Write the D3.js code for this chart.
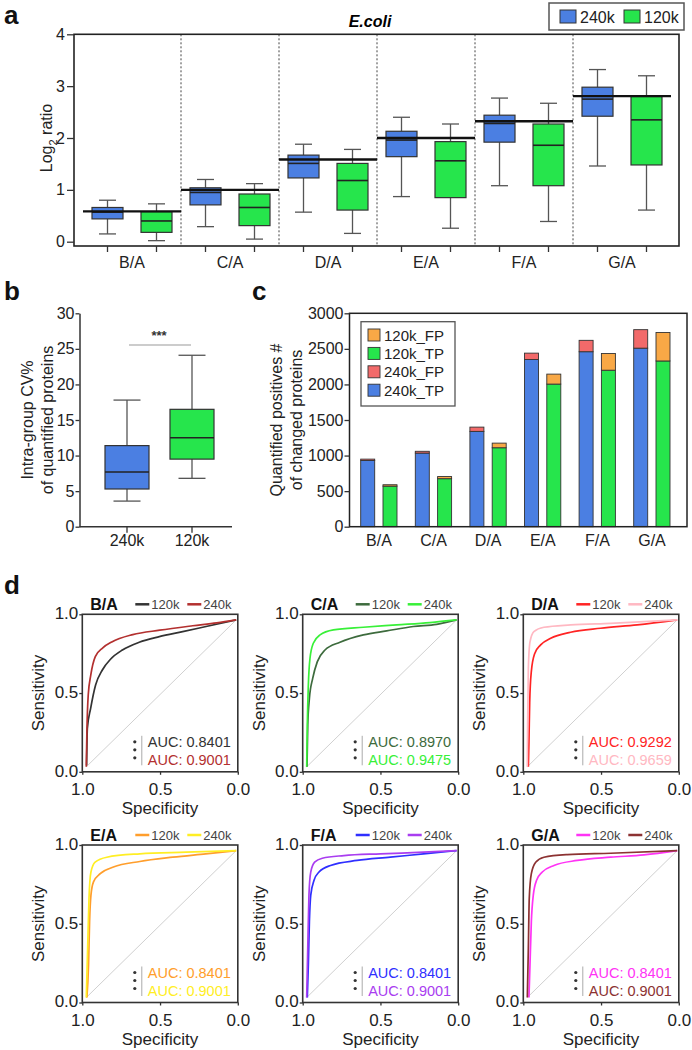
<!DOCTYPE html>
<html>
<head>
<meta charset="utf-8">
<script src="https://cdn.jsdelivr.net/npm/d3@7"></script>
<style>
  body { margin: 0; background: #fff; }
  svg { display: block; }
</style>
</head>
<body>
<svg id="chart" width="692" height="1050"></svg>
<script>
// ---------- data ----------
var ratios = ["B/A", "C/A", "D/A", "E/A", "F/A", "G/A"];
var expectedLog2 = [0.585, 1, 1.585, 2, 2.322, 2.807];

// [min, q1, median, q3, max]
var box240 = [
  [0.15, 0.44, 0.57, 0.66, 0.80],
  [0.29, 0.71, 0.95, 1.04, 1.20],
  [0.57, 1.23, 1.51, 1.67, 1.88],
  [0.87, 1.64, 1.96, 2.13, 2.40],
  [1.08, 1.92, 2.28, 2.44, 2.77],
  [1.46, 2.42, 2.75, 2.98, 3.32]
];
var box120 = [
  [0.02, 0.18, 0.40, 0.58, 0.73],
  [0.05, 0.31, 0.66, 0.92, 1.12],
  [0.16, 0.61, 1.18, 1.51, 1.78],
  [0.26, 0.85, 1.56, 1.93, 2.27],
  [0.39, 1.08, 1.86, 2.27, 2.67],
  [0.61, 1.48, 2.35, 2.80, 3.20]
];

var cvGroups = ["240k", "120k"];
var cvBoxes = [
  [3.6, 5.3, 7.7, 11.4, 17.8],
  [6.8, 9.5, 12.5, 16.5, 24.1]
];

var tp240 = [930, 1035, 1340, 2350, 2460, 2510];
var fp240 = [20, 25, 60, 90, 160, 260];
var tp120 = [570, 675, 1110, 2005, 2200, 2330];
var fp120 = [20, 30, 65, 140, 235, 400];

var auc120 = ["0.8401", "0.8970", "0.9292", "0.8401", "0.8401", "0.8401"];
var auc240 = ["0.9001", "0.9475", "0.9659", "0.9001", "0.9001", "0.9001"];
var col120 = ["#333333", "#3d6b3d", "#ff2424", "#ff9e2c", "#2f2fff", "#ff33f5"];
var col240 = ["#b3302f", "#38f038", "#ffb8c2", "#ffee24", "#a93df0", "#8c3232"];

// [specificity, sensitivity]
var roc120 = [
  [[0.998,0.011],[0.993,0.261],[0.971,0.398],[0.938,0.557],[0.893,0.659],[0.837,0.734],[0.759,0.795],[0.647,0.848],[0.513,0.886],[0.357,0.92],[0.201,0.955],[0,1]],
  [[0.998,0],[0.993,0.284],[0.982,0.466],[0.96,0.602],[0.929,0.716],[0.878,0.795],[0.778,0.848],[0.622,0.898],[0.467,0.925],[0.289,0.955],[0.133,0.97],[0,1]],
  [[0.993,0],[0.989,0.17],[0.984,0.44],[0.973,0.65],[0.951,0.77],[0.911,0.83],[0.844,0.875],[0.711,0.916],[0.511,0.943],[0.267,0.966],[0,1]],
  [[0.996,0],[0.985,0.225],[0.978,0.517],[0.969,0.697],[0.952,0.787],[0.907,0.843],[0.819,0.888],[0.643,0.926],[0.423,0.955],[0.203,0.978],[0,1]],
  [[0.996,0],[0.989,0.225],[0.982,0.517],[0.973,0.697],[0.951,0.798],[0.918,0.854],[0.841,0.899],[0.664,0.933],[0.442,0.955],[0.221,0.978],[0,1]],
  [[0.989,0],[0.982,0.225],[0.973,0.517],[0.96,0.697],[0.938,0.798],[0.9,0.854],[0.822,0.899],[0.667,0.933],[0.444,0.955],[0.222,0.971],[0,1]]
];
var roc240 = [
  [[1,0],[0.996,0.24],[0.987,0.49],[0.97,0.625],[0.94,0.75],[0.89,0.81],[0.83,0.85],[0.69,0.90],[0.51,0.93],[0.29,0.96],[0.13,0.98],[0,1]],
  [[1,0],[0.996,0.284],[0.989,0.557],[0.978,0.739],[0.956,0.841],[0.911,0.898],[0.822,0.932],[0.622,0.95],[0.4,0.966],[0.178,0.982],[0,1]],
  [[1,0],[0.998,0.28],[0.993,0.67],[0.982,0.85],[0.956,0.92],[0.889,0.95],[0.711,0.966],[0.444,0.977],[0,1]],
  [[1,0],[0.991,0.337],[0.982,0.674],[0.969,0.854],[0.941,0.921],[0.863,0.955],[0.643,0.978],[0.335,0.989],[0,1]],
  [[1,0],[0.993,0.337],[0.985,0.697],[0.973,0.854],[0.947,0.921],[0.896,0.948],[0.752,0.966],[0.509,0.978],[0.221,0.989],[0,1]],
  [[1,0],[0.993,0.337],[0.987,0.674],[0.973,0.843],[0.944,0.921],[0.889,0.955],[0.733,0.973],[0.444,0.982],[0,1]]
];

// ---------- setup ----------
var svg = d3.select("#chart");
var F = "'Liberation Sans', Arial, Helvetica, sans-serif";
var BLUE = "#4b7fe2", GREEN = "#26e54c", RED = "#f26a6a", ORANGE = "#f8a846";

svg.attr("font-family", F);

function styleAxis(g, size) {
  g.attr("font-family", F).attr("font-size", size);
  g.selectAll("text").attr("fill", "#222");
  g.selectAll("line").attr("stroke", "#333").attr("stroke-width", 1.3);
  g.selectAll(".domain").attr("stroke", "#333").attr("stroke-width", 1.5);
}

function drawBox(g, cx, w, capW, s, fill, y) {
  g.append("line").attr("x1", cx).attr("x2", cx).attr("y1", y(s[0])).attr("y2", y(s[1]))
    .attr("stroke", "#555").attr("stroke-width", 1.3);
  g.append("line").attr("x1", cx).attr("x2", cx).attr("y1", y(s[3])).attr("y2", y(s[4]))
    .attr("stroke", "#555").attr("stroke-width", 1.3);
  [s[0], s[4]].forEach(function(v) {
    g.append("line").attr("x1", cx - capW / 2).attr("x2", cx + capW / 2)
      .attr("y1", y(v)).attr("y2", y(v)).attr("stroke", "#555").attr("stroke-width", 1.3);
  });
  g.append("rect").attr("x", cx - w / 2).attr("y", y(s[3])).attr("width", w)
    .attr("height", y(s[1]) - y(s[3])).attr("fill", fill).attr("stroke", "#333").attr("stroke-width", 1.2);
  g.append("line").attr("x1", cx - w / 2).attr("x2", cx + w / 2)
    .attr("y1", y(s[2])).attr("y2", y(s[2])).attr("stroke", "#222").attr("stroke-width", 1.6);
}

function panelLabel(t, x, y) {
  svg.append("text").attr("x", x).attr("y", y).text(t)
    .attr("font-size", 26).attr("font-weight", "bold").attr("fill", "#111");
}

// ---------- panel a ----------
var aL = 74, aR = 679, aT = 34.3, aB = 246;
var ya = d3.scaleLinear().domain([0, 4]).range([241.7, 34.3]);
var xa = d3.scaleBand().domain(ratios).range([83, 671]);
var subKeys = [];
ratios.forEach(function(r) { subKeys.push(r + "_240", r + "_120"); });
var xaSub = d3.scaleBand().domain(subKeys).range([83, 671]);
var ga = svg.append("g");

ga.selectAll(".sep").data(ratios.slice(1)).enter().append("line")
  .attr("x1", function(d) { return xa(d); }).attr("x2", function(d) { return xa(d); })
  .attr("y1", aT).attr("y2", aB)
  .attr("stroke", "#444").attr("stroke-width", 1).attr("stroke-dasharray", "2,2");

ratios.forEach(function(r, i) {
  drawBox(ga, xaSub(r + "_240") + xaSub.bandwidth() / 2, 31, 17, box240[i], BLUE, ya);
  drawBox(ga, xaSub(r + "_120") + xaSub.bandwidth() / 2, 31, 17, box120[i], GREEN, ya);
});

ga.selectAll(".exp").data(ratios).enter().append("line")
  .attr("x1", function(d) { return Math.max(aL, xa(d)); })
  .attr("x2", function(d) { return Math.min(aR, xa(d) + xa.bandwidth()); })
  .attr("y1", function(d, i) { return ya(expectedLog2[i]); })
  .attr("y2", function(d, i) { return ya(expectedLog2[i]); })
  .attr("stroke", "#111").attr("stroke-width", 2.4);

ga.append("rect").attr("x", aL).attr("y", aT).attr("width", aR - aL).attr("height", aB - aT)
  .attr("fill", "none").attr("stroke", "#222").attr("stroke-width", 1.6);

var ayAxis = ga.append("g").attr("transform", "translate(" + aL + ",0)")
  .call(d3.axisLeft(ya).tickValues([0, 1, 2, 3, 4]).tickFormat(d3.format("d"))
    .tickSize(7).tickPadding(2).tickSizeOuter(0));
ayAxis.select(".domain").remove();
styleAxis(ayAxis, 16);

var axTicks = ga.append("g").attr("transform", "translate(0," + aB + ")")
  .call(d3.axisBottom(xaSub).tickSize(6).tickFormat("").tickSizeOuter(0));
axTicks.select(".domain").remove();
styleAxis(axTicks, 16);

var axLabels = ga.append("g").attr("transform", "translate(0," + aB + ")")
  .call(d3.axisBottom(xa).tickSize(0).tickPadding(11));
axLabels.select(".domain").remove();
styleAxis(axLabels, 16);

var ylab = ga.append("text").attr("transform", "translate(52,138) rotate(-90)")
  .attr("text-anchor", "middle").attr("font-size", 16).attr("fill", "#222");
ylab.append("tspan").text("Log");
ylab.append("tspan").text("2").attr("font-size", 11).attr("dy", 5);
ylab.append("tspan").text(" ratio").attr("dy", -5);

ga.append("text").attr("x", 370).attr("y", 27).attr("text-anchor", "middle")
  .attr("font-size", 16).attr("font-weight", "bold").attr("font-style", "italic").text("E.coli");

ga.append("rect").attr("x", 549).attr("y", 3).attr("width", 135).attr("height", 27)
  .attr("fill", "#fff").attr("stroke", "#555").attr("stroke-width", 1.5);
[["240k", BLUE, 560], ["120k", GREEN, 624]].forEach(function(d) {
  ga.append("rect").attr("x", d[2]).attr("y", 10).attr("width", 16).attr("height", 13)
    .attr("fill", d[1]).attr("stroke", "#333").attr("stroke-width", 1);
  ga.append("text").attr("x", d[2] + 20).attr("y", 22.5).attr("font-size", 16)
    .attr("fill", "#222").text(d[0]);
});

// ---------- panel b ----------
var bL = 79.5, bT = 313.3, bB = 526.7;
var yb = d3.scaleLinear().domain([0, 30]).range([bB, bT]);
var xb = d3.scaleBand().domain(cvGroups).range([94.5, 224.5]);
var gb = svg.append("g");

drawBox(gb, xb("240k") + xb.bandwidth() / 2, 44, 27, cvBoxes[0], BLUE, yb);
drawBox(gb, xb("120k") + xb.bandwidth() / 2, 44, 27, cvBoxes[1], GREEN, yb);

var byAxis = gb.append("g").attr("transform", "translate(" + bL + ",0)")
  .call(d3.axisLeft(yb).tickValues(d3.range(0, 31, 5)).tickSize(4).tickPadding(1).tickSizeOuter(0));
styleAxis(byAxis, 16);

gb.append("line").attr("x1", bL).attr("x2", 232).attr("y1", bB).attr("y2", bB)
  .attr("stroke", "#333").attr("stroke-width", 1.5);
var bxAxis = gb.append("g").attr("transform", "translate(0," + bB + ")")
  .call(d3.axisBottom(xb).tickSize(6).tickPadding(2).tickSizeOuter(0));
bxAxis.select(".domain").remove();
styleAxis(bxAxis, 16);

gb.append("line").attr("x1", 129).attr("x2", 191).attr("y1", 345).attr("y2", 345)
  .attr("stroke", "#bbb").attr("stroke-width", 1.5);
gb.append("text").attr("x", 159).attr("y", 340).attr("text-anchor", "middle")
  .attr("font-size", 13).attr("font-weight", "bold").attr("fill", "#333").text("***");

[["Intra-group CV%", 32.5], ["of quantified proteins", 52.5]].forEach(function(d) {
  gb.append("text").attr("transform", "translate(" + d[1] + ",420) rotate(-90)")
    .attr("text-anchor", "middle").attr("font-size", 16).attr("fill", "#222").text(d[0]);
});

// ---------- panel c ----------
var cL = 349.5, cR = 687, cT = 313.3, cB = 526.7;
var yc = d3.scaleLinear().domain([0, 3000]).range([cB, cT]);
var xc = d3.scaleBand().domain(ratios).range([351.7, 679.3]);
var gc = svg.append("g");

ratios.forEach(function(r, i) {
  var c = xc(r) + xc.bandwidth() / 2;
  var segs = [
    [c - 18.3, 0, tp240[i], BLUE],
    [c - 18.3, tp240[i], tp240[i] + fp240[i], RED],
    [c + 4, 0, tp120[i], GREEN],
    [c + 4, tp120[i], tp120[i] + fp120[i], ORANGE]
  ];
  segs.forEach(function(s) {
    gc.append("rect").attr("x", s[0]).attr("width", 14)
      .attr("y", yc(s[2])).attr("height", yc(s[1]) - yc(s[2]))
      .attr("fill", s[3]).attr("stroke", "#333").attr("stroke-width", 0.9);
  });
});

gc.append("rect").attr("x", cL).attr("y", cT).attr("width", cR - cL).attr("height", cB - cT)
  .attr("fill", "none").attr("stroke", "#222").attr("stroke-width", 1.5);

var cyAxis = gc.append("g").attr("transform", "translate(" + cL + ",0)")
  .call(d3.axisLeft(yc).tickValues(d3.range(0, 3001, 500)).tickFormat(d3.format("d"))
    .tickSize(5).tickPadding(1).tickSizeOuter(0));
cyAxis.select(".domain").remove();
styleAxis(cyAxis, 16);

var cxAxis = gc.append("g").attr("transform", "translate(0," + cB + ")")
  .call(d3.axisBottom(xc).tickSize(0).tickPadding(8));
cxAxis.select(".domain").remove();
styleAxis(cxAxis, 16);

gc.append("rect").attr("x", 361).attr("y", 321.7).attr("width", 94).attr("height", 84.3)
  .attr("fill", "#fff").attr("stroke", "#555").attr("stroke-width", 1.3);
var cLegend = [["120k_FP", ORANGE], ["120k_TP", GREEN], ["240k_FP", RED], ["240k_TP", BLUE]];
cLegend.forEach(function(d, i) {
  var yy = 335 + i * 18.4;
  gc.append("rect").attr("x", 368).attr("y", yy - 6).attr("width", 12).attr("height", 12)
    .attr("fill", d[1]).attr("stroke", "#333").attr("stroke-width", 0.9);
  gc.append("text").attr("x", 384).attr("y", yy + 5.5).attr("font-size", 15)
    .attr("fill", "#222").text(d[0]);
});

[["Quantified positives #", 282], ["of changed proteins", 302]].forEach(function(d) {
  gc.append("text").attr("transform", "translate(" + d[1] + ",420) rotate(-90)")
    .attr("text-anchor", "middle").attr("font-size", 16).attr("fill", "#222").text(d[0]);
});

// ---------- panel d ----------
var dLeft = [82.3, 302.7, 523.3], dTop = [614.3, 845], dW = 155.5, dH = 157.5;

ratios.forEach(function(r, i) {
  var left = dLeft[i % 3], top = dTop[Math.floor(i / 3)];
  var right = left + dW, bottom = top + dH;
  var g = svg.append("g");
  var xt = d3.scaleLinear().domain([1, 0]).range([left, right]);
  var yt = d3.scaleLinear().domain([0, 1]).range([bottom, top]);
  var xd = d3.scaleLinear().domain([1, 0]).range([left + 4, right - 1.6]);
  var yd = d3.scaleLinear().domain([0, 1]).range([bottom - 5, top + 5.6]);

  g.append("line").attr("x1", xd(1)).attr("y1", yd(0)).attr("x2", xd(0)).attr("y2", yd(1))
    .attr("stroke", "#d0d0d0").attr("stroke-width", 1);

  var line = d3.line().x(function(d) { return xd(d[0]); }).y(function(d) { return yd(d[1]); })
    .curve(d3.curveMonotoneX);
  g.append("path").attr("d", line(roc120[i])).attr("fill", "none")
    .attr("stroke", col120[i]).attr("stroke-width", 1.7);
  g.append("path").attr("d", line(roc240[i])).attr("fill", "none")
    .attr("stroke", col240[i]).attr("stroke-width", 1.7);

  g.append("rect").attr("x", left).attr("y", top).attr("width", dW).attr("height", dH)
    .attr("fill", "none").attr("stroke", "#333").attr("stroke-width", 1.6);

  var yAx = g.append("g").attr("transform", "translate(" + left + ",0)")
    .call(d3.axisLeft(yt).tickValues([0, 0.5, 1]).tickFormat(d3.format(".1f"))
      .tickSize(3).tickPadding(1).tickSizeOuter(0));
  yAx.select(".domain").remove();
  styleAxis(yAx, 17);
  yAx.selectAll("text").attr("dy", "0.25em");
  var xAx = g.append("g").attr("transform", "translate(0," + bottom + ")")
    .call(d3.axisBottom(xt).tickValues([1, 0.5, 0]).tickFormat(d3.format(".1f"))
      .tickSize(3).tickPadding(8).tickSizeOuter(0));
  xAx.select(".domain").remove();
  styleAxis(xAx, 17);

  g.append("text").attr("x", (left + right) / 2).attr("y", bottom + 42).attr("text-anchor", "middle")
    .attr("font-size", 17).attr("fill", "#222").text("Specificity");
  g.append("text").attr("transform", "translate(" + (left - 38) + "," + (top + dH / 2) + ") rotate(-90)")
    .attr("text-anchor", "middle").attr("font-size", 17).attr("fill", "#222").text("Sensitivity");

  g.append("text").attr("x", left + 8).attr("y", top - 4.5).attr("font-size", 16)
    .attr("font-weight", "bold").attr("fill", "#111").text(r);

  [[col120[i], "120k", 53], [col240[i], "240k", 105]].forEach(function(d) {
    g.append("line").attr("x1", left + d[2]).attr("x2", left + d[2] + 14)
      .attr("y1", top - 10).attr("y2", top - 10).attr("stroke", d[0]).attr("stroke-width", 2.5);
    g.append("text").attr("x", left + d[2] + 16).attr("y", top - 5.5).attr("font-size", 13)
      .attr("fill", "#444").text(d[1]);
  });

  g.append("text").attr("x", right - 7).attr("y", bottom - 24.5).attr("text-anchor", "end")
    .attr("font-size", 14.5).attr("fill", col120[i]).text("AUC: " + auc120[i]);
  g.append("text").attr("x", right - 7).attr("y", bottom - 7).attr("text-anchor", "end")
    .attr("font-size", 14.5).attr("fill", col240[i]).text("AUC: " + auc240[i]);
  g.append("line").attr("x1", right - 96).attr("x2", right - 96)
    .attr("y1", bottom - 36).attr("y2", bottom - 6.5).attr("stroke", "#aaa").attr("stroke-width", 1);
  [-30, -22, -14].forEach(function(dy) {
    g.append("circle").attr("cx", right - 103).attr("cy", bottom + dy).attr("r", 1.6).attr("fill", "#333");
  });
});

panelLabel("a", 4, 24);
panelLabel("b", 4, 300);
panelLabel("c", 252, 300);
panelLabel("d", 4, 594);
</script>
</body>
</html>
